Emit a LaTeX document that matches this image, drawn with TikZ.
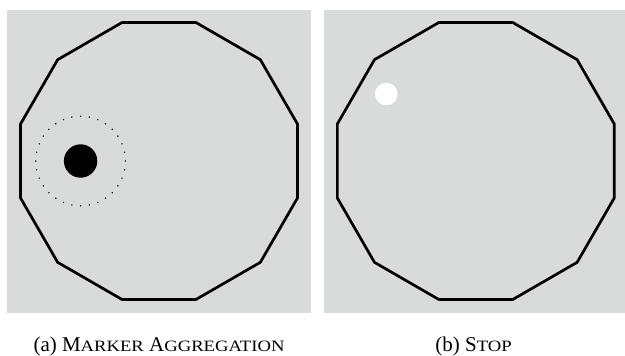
\documentclass[tikz,border=0pt]{standalone}
\usepackage{fontspec}
\usepackage{graphicx}
\setmainfont{Liberation Serif}
\usetikzlibrary{calc}
\newcommand{\capfont}{\fontsize{21}{25}\selectfont}
\newcommand{\lowcap}[1]{\scalebox{1.18}[1]{\fontsize{15.8}{18}\selectfont #1}}
\definecolor{panelgray}{RGB}{217,219,219}
\tikzset{
  panel/.style={fill=panelgray, draw=none},
  arena/.style={line width=2.7pt, line join=miter},
  caption/.style={anchor=base, inner sep=0pt, font=\capfont}
}
\begin{document}
\begin{tikzpicture}[x=1pt, y=-1pt]
    \useasboundingbox (0,0) rectangle (625,356);
    \fill[panelgray] (7,10) rectangle (311,313);
    \fill[panelgray] (324,10) rectangle (625,313);
    \coordinate (ca) at (159,161);
    \coordinate (cb) at (475.8,161);

    % dodecagon arenas
    \foreach \c in {ca,cb}
        \draw[arena] ($(\c)+(15:143.3)$)
            \foreach \k in {1,...,11} { -- ($(\c)+(15+30*\k:143.3)$) } -- cycle;

    % aggregated markers and their range
    \fill (80.6,161) circle (16.7);
    \foreach \k in {0,...,31}
        \fill ($(80.6,161)+(360/32*\k:44.8)$) circle (0.8);

    % stopped marker
    \fill[white] (386.3,94) circle (11.3);

    \node[caption] (capa) at (159,351.5) {(a) M\lowcap{ARKER} A\lowcap{GGREGATION}};
    \node[caption] (capb) at (473.5,351.5) {(b) S\lowcap{TOP}};
\end{tikzpicture}
\end{document}
